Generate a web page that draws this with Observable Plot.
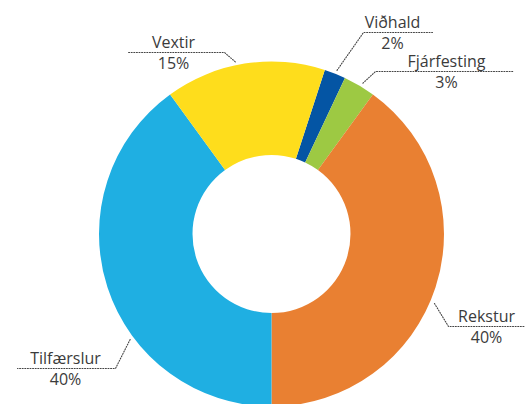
<!DOCTYPE html>
<html>
<head>
<meta charset="utf-8">
<script src="https://cdn.jsdelivr.net/npm/d3@7"></script>
<script src="https://cdn.jsdelivr.net/npm/@observablehq/plot@0.6"></script>
<style>
  html, body { margin: 0; padding: 0; background: #fff; }
  #chart svg { display: block; }
</style>
</head>
<body>
<div id="chart"></div>
<script>
// ---- data ----
const categories = ["Viðhald", "Fjárfesting", "Rekstur", "Tilfærslur", "Vextir"];
const shares = [2, 3, 40, 40, 15];
const percentLabels = ["2%", "3%", "40%", "40%", "15%"];
const colors = ["#0455a4", "#9dc943", "#e98032", "#1fafe2", "#fedd1c"];

// ---- layout (positions/sizes, kept apart from the data) ----
const W = 525, H = 404;
const center = {x: 271.5, y: 234};
const outerR = 172.5, innerR = 79;
const startDeg = 18;
// per label: horizontal leader row (y, x0..x1), text centre, angle tweak of leader tip
const labelLayout = [
  {lineY: 32,  x0: 363, x1: 432, textX: 392, side: "right", shift: 0},
  {lineY: 71,  x0: 375, x1: 513, textX: 446, side: "right", shift: 0.4},
  {lineY: 326, x0: 448, x1: 525, textX: 486, side: "right", shift: 5},
  {lineY: 368, x0: 17,  x1: 115, textX: 65,  side: "left",  shift: -18.5},
  {lineY: 52,  x0: 128, x1: 224, textX: 173, side: "left",  shift: -3}
];

const rad = d => d * Math.PI / 180;
const pie = d3.pie().sort(null).value(d => d.value)
  .startAngle(rad(startDeg)).endAngle(rad(startDeg) + 2 * Math.PI);
const rows = categories.map((c, i) => ({category: c, value: shares[i], pct: percentLabels[i], color: colors[i]}));
const arcs = pie(rows);

// leader lines
const leaders = [];
const names = [], pcts = [];
arcs.forEach((a, i) => {
  const L = labelLayout[i];
  const ang = (a.startAngle + a.endAngle) / 2 + rad(L.shift);
  const tipR = outerR + 4;
  const tip = {x: center.x + tipR * Math.sin(ang), y: center.y - tipR * Math.cos(ang)};
  const elbowX = L.side === "right" ? L.x0 : L.x1;
  const farX = L.side === "right" ? L.x1 : L.x0;
  leaders.push({k: i, x: tip.x, y: tip.y});
  leaders.push({k: i, x: elbowX, y: L.lineY});
  leaders.push({k: i, x: farX, y: L.lineY});
  names.push({x: L.textX, y: L.lineY - 5, t: a.data.category});
  pcts.push({x: L.textX, y: L.lineY + 16, t: a.data.pct});
});

function donut(index, scales, values, dimensions, context) {
  const g = d3.create("svg:g");
  const cx = scales.x(center.x), cy = scales.y(center.y);
  const R = scales.x(center.x + outerR) - cx;
  const r = scales.x(center.x + innerR) - cx;
  const arc = d3.arc().innerRadius(r).outerRadius(R);
  g.attr("transform", `translate(${cx},${cy})`)
    .selectAll("path").data(arcs).join("path")
    .attr("d", arc)
    .attr("fill", d => d.data.color);
  return g.node();
}

const textStyle = {
  fontSize: 16, fill: "#3b3b3b", textAnchor: "middle", lineAnchor: "bottom",
  fontFamily: "'Open Sans', sans-serif"
};

const plot = Plot.plot({
  width: W, height: H,
  marginTop: 0, marginRight: 0, marginBottom: 0, marginLeft: 0,
  x: {domain: [0, W], range: [0, W], axis: null},
  y: {domain: [0, H], range: [0, H], axis: null},
  style: {background: "#fff", overflow: "hidden"},
  marks: [
    donut,
    Plot.line(leaders, {x: "x", y: "y", z: "k", stroke: "#444", strokeWidth: 1.1, strokeDasharray: "1,1.6"}),
    Plot.text(names, {x: "x", y: "y", text: "t", ...textStyle}),
    Plot.text(pcts, {x: "x", y: "y", text: "t", ...textStyle})
  ]
});
document.getElementById("chart").appendChild(plot);
</script>
</body>
</html>
